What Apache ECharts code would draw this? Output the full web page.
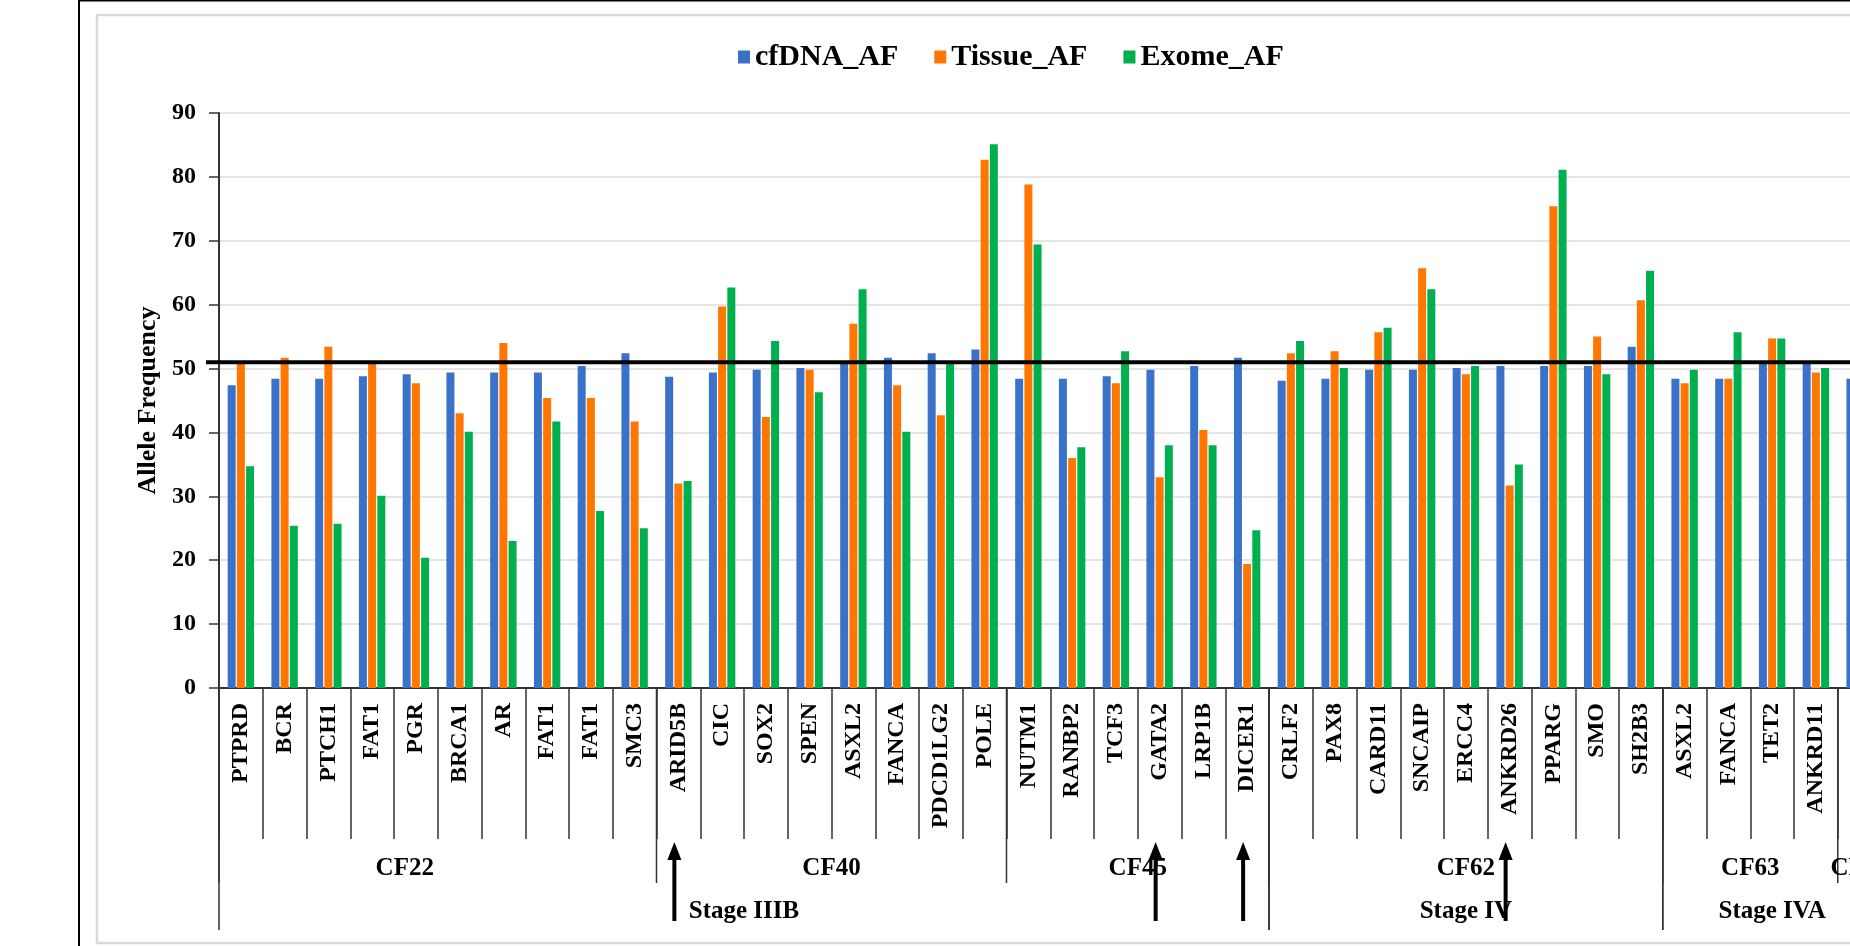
<!DOCTYPE html>
<html>
<head>
<meta charset="utf-8">
<title>Allele Frequency by gene</title>
<script src="https://cdn.jsdelivr.net/npm/echarts@6/dist/echarts.min.js"></script>
<style>
  html, body { margin: 0; padding: 0; background: #ffffff; overflow: hidden; width: 1850px; height: 946px; }
  #chart { width: 2000px; height: 946px; }
</style>
</head>
<body>
<div id="chart"></div>
<script>
// Genes in plotting order (grouped by sample below)
const genes = [
  'PTPRD', 'BCR', 'PTCH1', 'FAT1', 'PGR', 'BRCA1', 'AR', 'FAT1', 'FAT1', 'SMC3',
  'ARID5B', 'CIC', 'SOX2', 'SPEN', 'ASXL2', 'FANCA', 'PDCD1LG2', 'POLE',
  'NUTM1', 'RANBP2', 'TCF3', 'GATA2', 'LRP1B', 'DICER1',
  'CRLF2', 'PAX8', 'CARD11', 'SNCAIP', 'ERCC4', 'ANKRD26', 'PPARG', 'SMO', 'SH2B3',
  'ASXL2', 'FANCA', 'TET2', 'ANKRD11',
  'FLT3'
];

// Allele frequencies (%) per gene
const cfDNA_AF = [
  47.4, 48.4, 48.4, 48.8, 49.1, 49.4, 49.4, 49.4, 50.4, 52.4,
  48.7, 49.4, 49.8, 50.1, 50.8, 51.7, 52.4, 53.0,
  48.4, 48.4, 48.8, 49.8, 50.4, 51.7,
  48.1, 48.4, 49.8, 49.8, 50.1, 50.4, 50.4, 50.4, 53.4,
  48.4, 48.4, 50.8, 50.8,
  48.4
];
const Tissue_AF = [
  50.9, 51.7, 53.4, 50.9, 47.7, 43.0, 54.0, 45.4, 45.4, 41.7,
  32.0, 59.7, 42.4, 49.8, 57.0, 47.4, 42.7, 82.7,
  78.8, 36.0, 47.7, 33.0, 40.4, 19.4,
  52.4, 52.7, 55.7, 65.7, 49.1, 31.7, 75.4, 55.0, 60.7,
  47.7, 48.4, 54.7, 49.4,
  null
];
const Exome_AF = [
  34.7, 25.4, 25.7, 30.1, 20.4, 40.1, 23.0, 41.7, 27.7, 25.0,
  32.4, 62.7, 54.3, 46.3, 62.4, 40.1, 50.8, 85.1,
  69.4, 37.7, 52.7, 38.0, 38.0, 24.7,
  54.3, 50.1, 56.4, 62.4, 50.4, 35.0, 81.1, 49.1, 65.3,
  49.8, 55.7, 54.7, 50.1,
  null
];

// Sample groups (number of genes in each) and stage groups (number of samples in each)
const sampleNames = ['CF22', 'CF40', 'CF45', 'CF62', 'CF63', 'CF64'];
const sampleSizes = [10, 8, 6, 9, 4, 1];
const stageNames = ['Stage IIIB', 'Stage IV', 'Stage IVA'];
const stageSampleCounts = [3, 1, 2];

// Genes highlighted with an arrow under the axis
const markedGenes = [10, 21, 23, 29];

// Reference allele frequency drawn as a heavy horizontal line
const thresholdAF = 51;

const yTicks = [0, 10, 20, 30, 40, 50, 60, 70, 80, 90];

const FONT = '"Liberation Serif", "Times New Roman", serif';
const COLORS = ['#3A72C9', '#FF7600', '#00B04F'];
const VIEW_RIGHT = 1850;

// horizontal nudge (px) for sample labels that sit off-centre in their bracket
const SAMPLE_LABEL_SHIFT = { CF22: -33 };

const chart = echarts.init(document.getElementById('chart'), null, { renderer: 'canvas' });

const option = {
  animation: false,
  backgroundColor: '#ffffff',
  color: COLORS,
  legend: {
    left: 733,
    top: 37,
    itemWidth: 12,
    itemHeight: 13,
    itemGap: 36,
    icon: 'rect',
    textStyle: { fontFamily: FONT, fontWeight: 'bold', fontSize: 30, color: '#000' },
    data: ['cfDNA_AF', 'Tissue_AF', 'Exome_AF']
  },
  grid: { left: 219, top: 113, width: 43.75 * genes.length, height: 575 },
  xAxis: {
    type: 'category',
    data: genes,
    boundaryGap: true,
    axisLine: { lineStyle: { color: '#333', width: 2 } },
    axisTick: { show: true, interval: 0, length: 151, lineStyle: { color: '#333', width: 1.5 } },
    axisLabel: {
      interval: 0,
      rotate: 90,
      margin: 15,
      fontFamily: FONT,
      fontWeight: 'bold',
      fontSize: 24,
      color: '#000'
    },
    splitLine: { show: false }
  },
  yAxis: {
    type: 'value',
    min: yTicks[0],
    max: yTicks[yTicks.length - 1],
    interval: yTicks[1] - yTicks[0],
    name: 'Allele Frequency',
    nameLocation: 'middle',
    nameGap: 57,
    nameTextStyle: { fontFamily: FONT, fontWeight: 'bold', fontSize: 26, color: '#000' },
    axisLine: { show: true, lineStyle: { color: '#333', width: 2 } },
    axisTick: { show: true, length: 10, lineStyle: { color: '#333', width: 1.5 } },
    axisLabel: { margin: 23, fontFamily: FONT, fontWeight: 'bold', fontSize: 24, color: '#000' },
    splitLine: { show: true, lineStyle: { color: '#DCDCDC', width: 1.5 } }
  },
  series: [
    { name: 'cfDNA_AF', type: 'bar', data: cfDNA_AF, barWidth: 8, barGap: '15%' },
    { name: 'Tissue_AF', type: 'bar', data: Tissue_AF, barWidth: 8, barGap: '15%' },
    { name: 'Exome_AF', type: 'bar', data: Exome_AF, barWidth: 8, barGap: '15%' }
  ]
};

chart.setOption(option);

// Annotation layer: frame, threshold line, sample/stage brackets and arrows,
// all placed through the axes' own pixel conversion.
function buildAnnotations() {
  const c0 = chart.convertToPixel({ xAxisIndex: 0 }, 0);
  const c1 = chart.convertToPixel({ xAxisIndex: 0 }, 1);
  const band = c1 - c0;
  const edge = i => c0 - band / 2 + i * band;
  const center = i => c0 + i * band;
  const yZero = chart.convertToPixel({ yAxisIndex: 0 }, 0);
  const yRef = chart.convertToPixel({ yAxisIndex: 0 }, thresholdAF);

  const groupDepth = yZero + 195;
  const stageDepth = yZero + 242;
  const groupLabelY = yZero + 181;
  const stageLabelY = yZero + 224;

  const els = [];

  // outer frame and inner plot-area frame
  els.push({ type: 'line', shape: { x1: 79, y1: 0, x2: 79, y2: 946 }, style: { stroke: '#000', lineWidth: 2 }, z: 50 });
  els.push({ type: 'line', shape: { x1: 79, y1: 0.5, x2: 2000, y2: 0.5 }, style: { stroke: '#000', lineWidth: 2 }, z: 50 });
  els.push({ type: 'rect', shape: { x: 97, y: 15, width: 1900, height: 928 }, style: { fill: null, stroke: '#D9D9D9', lineWidth: 2.5 }, z: 1 });

  // sample boundaries and labels
  const groupStarts = [0];
  sampleSizes.forEach((n, k) => groupStarts.push(groupStarts[k] + n));
  groupStarts.forEach(i => {
    els.push({ type: 'line', shape: { x1: edge(i), y1: yZero, x2: edge(i), y2: groupDepth }, style: { stroke: '#333', lineWidth: 1.5 }, z: 50 });
  });
  sampleNames.forEach((name, k) => {
    const mid = (edge(groupStarts[k]) + edge(groupStarts[k + 1])) / 2 + (SAMPLE_LABEL_SHIFT[name] || 0);
    els.push({
      type: 'text', x: mid, y: groupLabelY, z: 50,
      style: { text: name, fontFamily: FONT, fontWeight: 'bold', fontSize: 25, fill: '#000', align: 'center', verticalAlign: 'middle' }
    });
  });

  // stage boundaries and labels
  let s = 0;
  stageNames.forEach((name, k) => {
    const first = groupStarts[s];
    const last = groupStarts[s + stageSampleCounts[k]];
    s += stageSampleCounts[k];
    [first, last].forEach(i => {
      els.push({ type: 'line', shape: { x1: edge(i), y1: yZero, x2: edge(i), y2: stageDepth }, style: { stroke: '#333', lineWidth: 1.5 }, z: 50 });
    });
    els.push({
      type: 'text', x: (edge(first) + edge(last)) / 2, y: stageLabelY, z: 50,
      style: { text: name, fontFamily: FONT, fontWeight: 'bold', fontSize: 25, fill: '#000', align: 'center', verticalAlign: 'middle' }
    });
  });

  // arrows pointing up at highlighted genes
  markedGenes.forEach(i => {
    const x = center(i) - 4;
    const tip = yZero + 154;
    const tail = yZero + 233;
    els.push({ type: 'rect', shape: { x: x - 2, y: tip + 14, width: 4, height: tail - tip - 14 }, style: { fill: '#000' }, z: 60 });
    els.push({ type: 'polygon', shape: { points: [[x - 7, tip + 18], [x + 7, tip + 18], [x, tip]] }, style: { fill: '#000' }, z: 60 });
  });

  // heavy reference line at the threshold allele frequency
  els.push({ type: 'line', shape: { x1: 206, y1: yRef, x2: VIEW_RIGHT + 150, y2: yRef }, style: { stroke: '#000', lineWidth: 4 }, z: 100 });

  return els;
}

chart.setOption({ graphic: { elements: buildAnnotations() } });
</script>
</body>
</html>
